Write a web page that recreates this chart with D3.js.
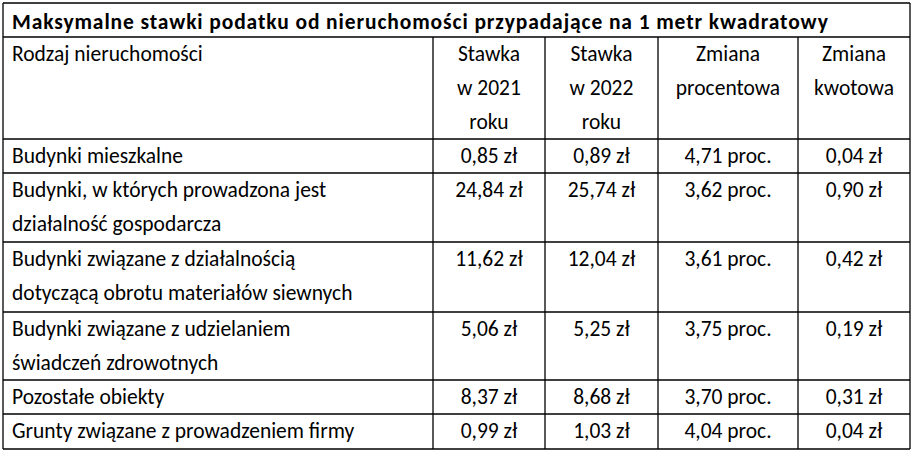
<!DOCTYPE html>
<html><head><meta charset="utf-8">
<script src="https://cdn.jsdelivr.net/npm/d3@7"></script>
<style>body{margin:0;background:#fff}</style>
</head><body><svg id="t"></svg>
<script>
const title = "Maksymalne stawki podatku od nieruchomości przypadające na 1 metr kwadratowy";
const headers = [["Rodzaj nieruchomości"], ["Stawka", "w 2021", "roku"], ["Stawka", "w 2022", "roku"], ["Zmiana", "procentowa"], ["Zmiana", "kwotowa"]];
const categories = [
  ["Budynki mieszkalne"],
  ["Budynki, w których prowadzona jest", "działalność gospodarcza"],
  ["Budynki związane z działalnością", "dotyczącą obrotu materiałów siewnych"],
  ["Budynki związane z udzielaniem", "świadczeń zdrowotnych"],
  ["Pozostałe obiekty"],
  ["Grunty związane z prowadzeniem firmy"]
];
const rate2021 = [0.85, 24.84, 11.62, 5.06, 8.37, 0.99];
const rate2022 = [0.89, 25.74, 12.04, 5.25, 8.68, 1.03];
const pctChange = [4.71, 3.62, 3.61, 3.75, 3.70, 4.04];
const amtChange = [0.04, 0.90, 0.42, 0.19, 0.31, 0.04];

const colEdges = [3, 433, 545, 658, 798, 910];
const rowEdges = [3, 37, 139, 173, 242, 312, 380, 414, 449];
const font = "Calibri, Carlito, Lato, 'Noto Sans', sans-serif";
const fs = 21.5, lh = 34;

const svg = d3.select("#t").attr("width", 916).attr("height", 456);
const pl = d3.format(".2f");
const zl = v => pl(v).replace(".", ",") + " zł";
const pr = v => pl(v).replace(".", ",") + " proc.";

const rows = [headers].concat(categories.map((c, i) => [c, [zl(rate2021[i])], [zl(rate2022[i])], [pr(pctChange[i])], [zl(amtChange[i])]]));

const g = svg.append("g").attr("font-family", font).attr("font-size", fs).attr("fill", "#000");
// title
g.append("text").attr("x", 12).attr("y", rowEdges[0] + 26).attr("font-weight", "bold")
  .attr("letter-spacing", 0.9).text(title);

rows.forEach((r, ri) => {
  const top = rowEdges[ri + 1];
  r.forEach((lines, ci) => {
    const x = ci === 0 ? colEdges[0] + 9 : (colEdges[ci] + colEdges[ci + 1]) / 2;
    const t = g.append("text").attr("text-anchor", ci === 0 ? "start" : "middle");
    lines.forEach((l, li) => t.append("tspan").attr("x", x).attr("y", top + 24 + li * lh).text(l));
  });
});

const lines = svg.append("g").attr("stroke", "#000").attr("stroke-width", 1.3);
rowEdges.forEach(y => lines.append("line").attr("x1", colEdges[0]).attr("x2", colEdges[5]).attr("y1", y).attr("y2", y));
colEdges.forEach((x, i) => lines.append("line").attr("x1", x).attr("x2", x)
  .attr("y1", i === 0 || i === 5 ? rowEdges[0] : rowEdges[1]).attr("y2", rowEdges[8]));
</script></body></html>
